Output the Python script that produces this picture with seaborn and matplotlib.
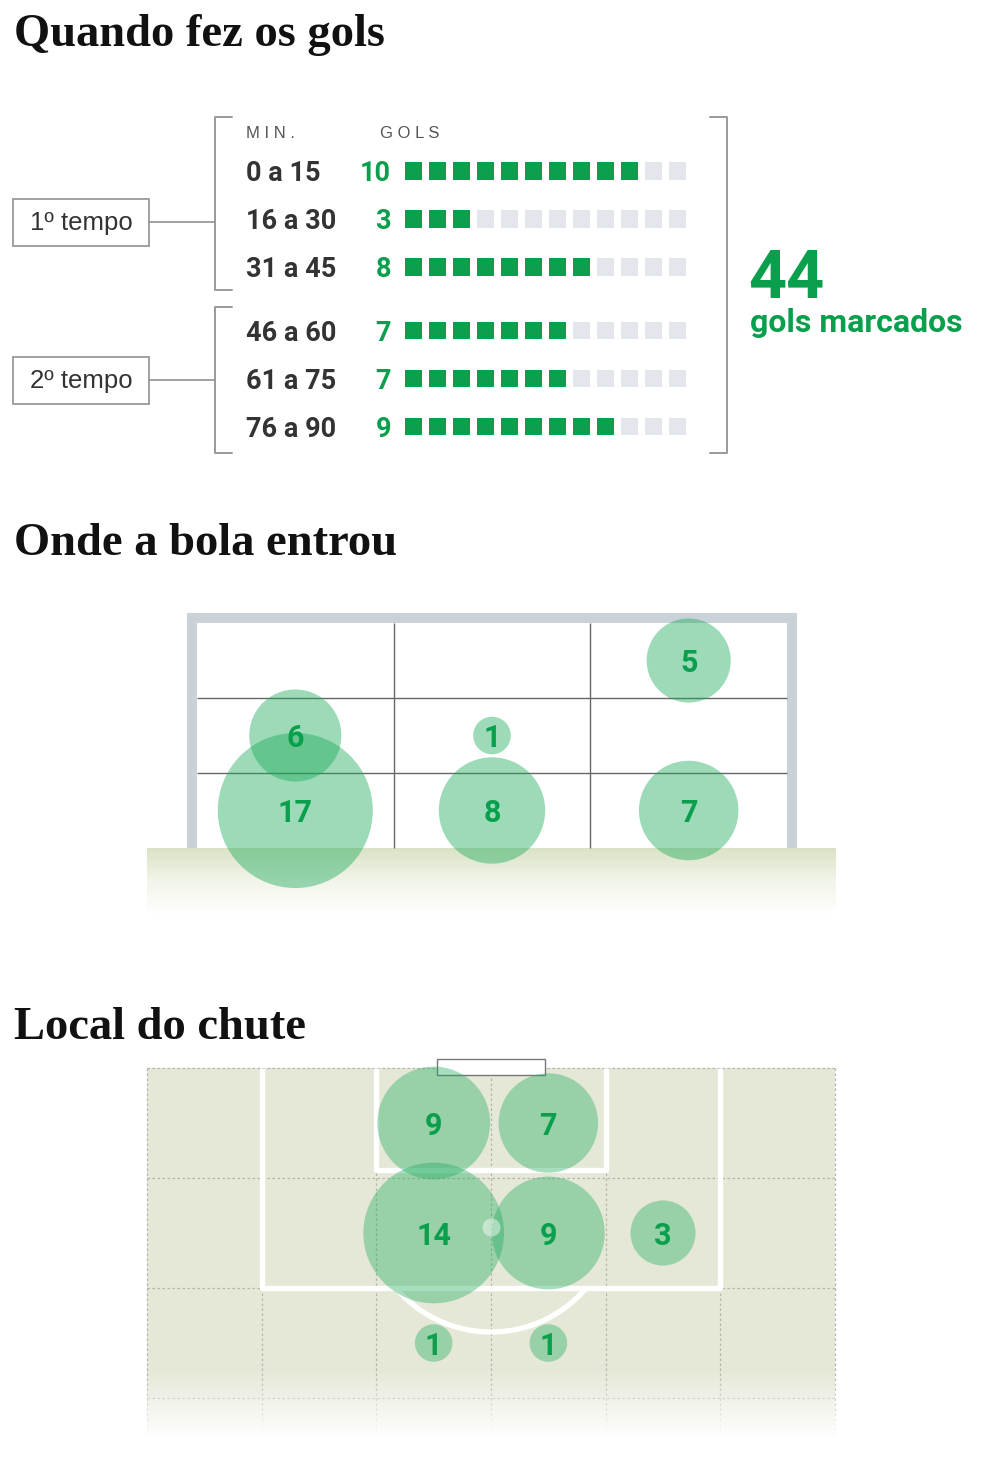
import numpy as np
import pandas as pd
import matplotlib
matplotlib.use("Agg")
import matplotlib.pyplot as plt
import seaborn as sns
from matplotlib.patches import Rectangle
from matplotlib.colors import LinearSegmentedColormap
from matplotlib.transforms import blended_transform_factory

# --- data ---
minute_ranges = ["0 a 15", "16 a 30", "31 a 45", "46 a 60", "61 a 75", "76 a 90"]
goals_by_minute = [10, 3, 8, 7, 7, 9]
total_goals = 44
n_slots = 12

goal_cols = [0, 0, 1, 1, 2, 2]
goal_rows = [1, 2, 1, 2, 0, 2]
goal_goals = [6, 17, 1, 8, 5, 7]

shot_cols = [2, 3, 2, 3, 4, 2, 3]
shot_rows = [0, 0, 1, 1, 1, 2, 2]
shot_goals = [9, 7, 14, 9, 3, 1, 1]

GREEN = "#0a9f4c"
BUBBLE = "#1baa5b"
GRAY_SQ = "#e3e6ea"
W, H = 984, 1479

sns.set_theme(style="white")
plt.rcParams["font.family"] = ["Roboto", "DejaVu Sans"]

fig = plt.figure(figsize=(W / 100, H / 100), dpi=100)


def px_axes(x0, y0, x1, y1):
    ax = fig.add_axes([x0 / W, 1 - y1 / H, (x1 - x0) / W, (y1 - y0) / H])
    ax.set_axis_off()
    ax.patch.set_alpha(0)
    return ax


bg = px_axes(0, 0, W, H)
bg.set_xlim(0, W)
bg.set_ylim(H, 0)

title_kw = dict(family="Liberation Serif", weight="bold", size=33.5, color="#111111", va="baseline")
bg.text(14, 46, "Quando fez os gols", **title_kw)
bg.text(14, 555, "Onde a bola entrou", **title_kw)
bg.text(14, 1039, "Local do chute", **title_kw)

# ---------- section 1: goals by minute ----------
br = "#9a9a9a"
bg.plot([232, 215, 215, 232], [117, 117, 290, 290], color=br, lw=1.4)
bg.plot([232, 215, 215, 232], [307, 307, 453, 453], color=br, lw=1.4)
bg.plot([710, 727, 727, 710], [117, 117, 453, 453], color=br, lw=1.4)
for label, yc in [("1º tempo", 222), ("2º tempo", 380)]:
    bg.add_patch(Rectangle((13, yc - 23), 136, 47, facecolor="white", edgecolor="#9a9a9a", lw=1.3))
    bg.plot([149, 215], [yc, yc], color="#9a9a9a", lw=1.3)
    bg.text(81, yc + 1, label, family="Liberation Sans", size=18.5, color="#333333",
            ha="center", va="center")

bg.text(246, 133, "M I N .", family="Liberation Sans", size=12, color="#555555", va="center")
bg.text(380, 133, "G O L S", family="Liberation Sans", size=12, color="#555555", va="center")
bg.text(748, 298, str(total_goals), size=48, weight="bold", color=GREEN, va="baseline")
bg.text(750, 332, "gols marcados", size=23, weight="bold", color=GREEN, va="baseline")

row_pos = [i + (0.333 if i >= 3 else 0) for i in range(len(minute_ranges))]
cells = pd.DataFrame(
    [(s, row_pos[r], s < goals_by_minute[r]) for r in range(len(minute_ranges)) for s in range(n_slots)],
    columns=["slot", "pos", "filled"],
)
wf = px_axes(400, 117, 700, 453)
sns.scatterplot(data=cells, x="slot", y="pos", hue="filled", palette={True: GREEN, False: GRAY_SQ},
                marker="s", s=150, linewidth=0, legend=False, ax=wf)
wf.set_xlim((400 - 413.5) / 24, (700 - 413.5) / 24)
wf.set_ylim(5.875, -1.125)
wf.set_axis_off()
tr = blended_transform_factory(bg.transData, wf.transData)
for lab, val, yp in zip(minute_ranges, goals_by_minute, row_pos):
    wf.text(246, yp + 0.06, lab, transform=tr, size=19.5, weight="bold", color="#333333", va="center")
    wf.text(391, yp + 0.06, str(val), transform=tr, size=19.5, weight="bold", color=GREEN,
            va="center", ha="right")

# ---------- section 2: goal mouth ----------
ga = px_axes(147, 600, 836, 920)
ground = LinearSegmentedColormap.from_list("ground", ["#dbe3c6", "#f2f5ea", "#ffffff"])
ga.imshow(np.linspace(0, 1, 100).reshape(-1, 1), cmap=ground, aspect="auto",
          extent=(-0.254, 3.249, 3.893, 3.0), origin="upper", zorder=1)
post = "#c9d1d9"
ga.add_patch(Rectangle((-0.0508, -0.133), 3.1016, 0.133, color=post, lw=0, zorder=2))
ga.add_patch(Rectangle((-0.0508, -0.133), 0.0508, 3.133, color=post, lw=0, zorder=2))
ga.add_patch(Rectangle((3.0, -0.133), 0.0508, 3.133, color=post, lw=0, zorder=2))
ga.vlines([1, 2], 0, 3, color="#666666", lw=1, zorder=2)
ga.hlines([1, 2], 0, 3, color="#666666", lw=1, zorder=2)

gdf = pd.DataFrame({"x": np.array(goal_cols) + 0.5, "y": np.array(goal_rows) + 0.5, "n": goal_goals})
sns.scatterplot(data=gdf, x="x", y="y", size="n", sizes=(733, 733 * 17), size_norm=(1, 17),
                color=BUBBLE, alpha=0.43, linewidth=0, legend=False, ax=ga, zorder=4)
for x, y, n in zip(gdf.x, gdf.y, goal_goals):
    ga.text(x, y + 0.03, str(n), size=22, weight="bold", color=GREEN, ha="center", va="center", zorder=5)
ga.set_xlim(-0.254, 3.249)
ga.set_ylim(3.96, -0.307)
ga.set_axis_off()

# ---------- section 3: shot location ----------
pa = px_axes(140, 1050, 840, 1460)
pa.add_patch(Rectangle((0, 0), 6, 3.35, facecolor="#e6e8d7", lw=0, zorder=0))
dot = dict(color="#b4b4ae", lw=0.9, linestyle=(0, (2, 2)), zorder=1)
pa.hlines([0, 1, 2, 3], 0, 6, **dot)
pa.vlines([0, 1, 2, 3, 4, 5, 6], 0, 3.35, **dot)
line = dict(color="white", lw=3.8, solid_capstyle="butt", zorder=2)
pa.plot([1, 1, 5, 5], [0, 2, 2, 0], **line)
pa.plot([2, 2, 4, 4], [0, 0.93, 0.93, 0], **line)
t = np.linspace(0, np.pi, 200)
arc_x, arc_y = 3 + 1.09 * np.cos(t), 1.264 + 1.136 * np.sin(t)
keep = arc_y >= 2
pa.plot(arc_x[keep], arc_y[keep], **line)
fade = np.ones((100, 1, 4))
fade[:, 0, 3] = np.clip(np.linspace(0, 1.15, 100), 0, 1)
pa.imshow(fade, aspect="auto", extent=(-0.1, 6.1, 3.45, 2.75), origin="upper", zorder=3)
pa.add_patch(Rectangle((2.525, -0.082), 0.95, 0.146, facecolor="white", edgecolor="#777777",
                       lw=1, zorder=3))

sdf = pd.DataFrame({"x": np.array(shot_cols) + 0.5, "y": np.array(shot_rows) + 0.5, "n": shot_goals})
sns.scatterplot(data=sdf, x="x", y="y", size="n", sizes=(733, 733 * 14), size_norm=(1, 14),
                color=BUBBLE, alpha=0.38, linewidth=0, legend=False, ax=pa, zorder=4)
pa.scatter([3], [1.445], s=170, color="white", alpha=0.45, linewidth=0, zorder=4.5)
for x, y, n in zip(sdf.x, sdf.y, shot_goals):
    pa.text(x, y + 0.03, str(n), size=22, weight="bold", color=GREEN, ha="center", va="center", zorder=5)
pa.set_xlim((140 - 147) / 114.67, (840 - 147) / 114.67)
pa.set_ylim((1460 - 1068) / 110, (1050 - 1068) / 110)
pa.set_axis_off()

fig.savefig("out.png", dpi=100)
